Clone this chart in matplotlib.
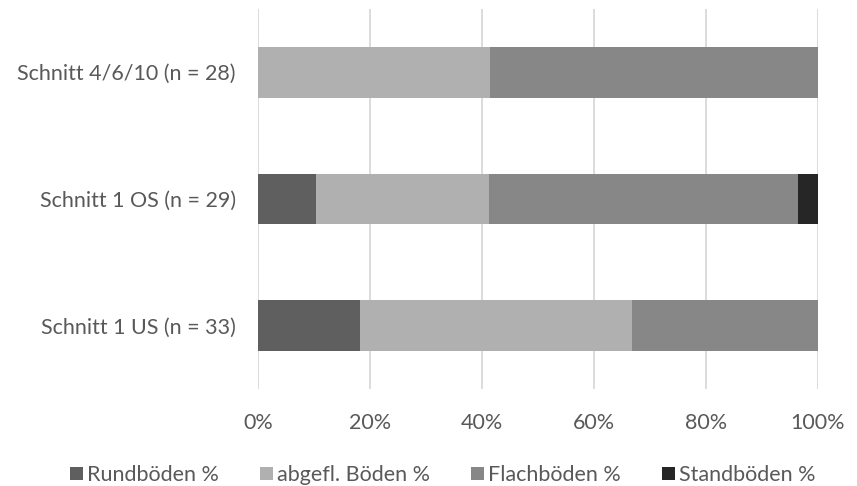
import matplotlib
matplotlib.use("Agg")
import matplotlib.pyplot as plt
import numpy as np

# Excel-style 100% stacked horizontal bars
categories = ["Schnitt 1 US (n = 33)", "Schnitt 1 OS (n = 29)", "Schnitt 4/6/10 (n = 28)"]
series_names = ["Rundböden %", "abgefl. Böden %", "Flachböden %", "Standböden %"]
rund = [18.2, 10.3, 0.0]
abgefl = [48.5, 31.0, 41.4]
flach = [33.3, 55.2, 58.6]
stand = [0.0, 3.5, 0.0]
colors = ["#5f5f5f", "#b0b0b0", "#878787", "#262626"]
ticks = [0, 20, 40, 60, 80, 100]

plt.rcParams["font.family"] = ["Lato", "DejaVu Sans"]
txt = "#595959"

fig = plt.figure(figsize=(8.57, 4.86), dpi=100)
ax = fig.add_axes([258/857, 1 - 389/486, 560/857, 380/486])

y = np.arange(len(categories))
left = np.zeros(len(categories))
for vals, name, c in zip([rund, abgefl, flach, stand], series_names, colors):
    ax.barh(y, vals, left=left, height=0.4, color=c, label=name, zorder=3)
    left += np.array(vals)

ax.set_xlim(0, 100)
ax.set_ylim(-0.5, 2.5)
ax.set_xticks(ticks)
ax.set_xticklabels([f"{t}%" for t in ticks])
ax.set_yticks(y)
ax.set_yticklabels(categories)
ax.grid(axis="x", color="#d9d9d9", linewidth=1.3, zorder=0)
for s in ax.spines.values():
    s.set_visible(False)
ax.tick_params(length=0, labelsize=15.5, colors=txt)
ax.tick_params(axis="x", pad=17)
ax.tick_params(axis="y", pad=16)

ax.legend(loc="center", bbox_to_anchor=(443/857, 1 - 475/486), bbox_transform=fig.transFigure,
          ncol=4, frameon=False, fontsize=15.5, labelcolor=txt,
          handlelength=0.6, handleheight=0.6, handletextpad=0.2, columnspacing=1.9)

fig.savefig("out.png", dpi=100)
